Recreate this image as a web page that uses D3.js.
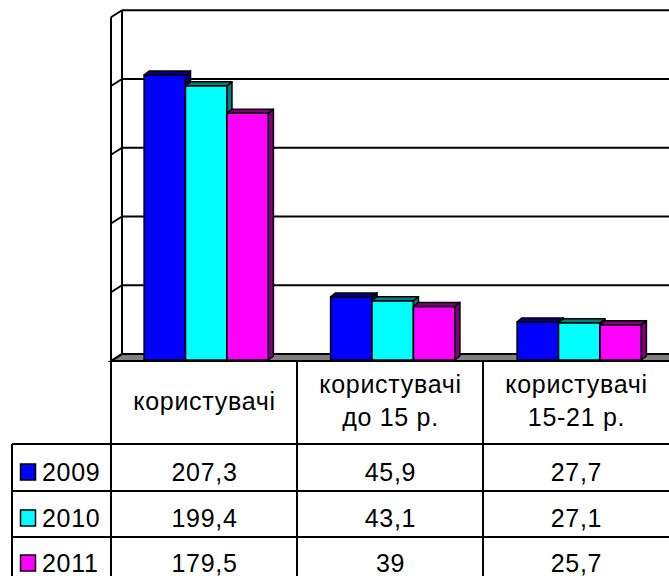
<!DOCTYPE html>
<html lang="uk">
<head>
  <meta charset="UTF-8">
  <title>Користувачі 2009-2011</title>
  <script src="https://d3js.org/d3.v7.min.js"></script>
  <style>
    body { margin: 0; background: #fff; }
    svg { display: block; font-family: "Liberation Sans", Arial, sans-serif; }
  </style>
</head>
<body>
  <svg id="chart" width="669" height="576"></svg>
  <script>
    // data
    const categories = [["користувачі"], ["користувачі", "до 15 р."], ["користувачі", "15-21 р."]];
    const years = ["2009", "2010", "2011"];
    const values2009 = [207.3, 45.9, 27.7];
    const values2010 = [199.4, 43.1, 27.1];
    const values2011 = [179.5, 39, 25.7];
    const seriesValues = [values2009, values2010, values2011];
    const gridTicks = [0, 50, 100, 150, 200, 250];

    const colors = ["#0000ff", "#00ffff", "#ff00ff"];
    const darkColors = ["#000080", "#008080", "#800080"];

    const svg = d3.select("#chart"),
          width = +svg.attr("width");

    // 3d offsets
    const depthX = 11, depthY = -7;   // wall depth
    const barDX = 5, barDY = -4;      // bar depth

    const catIdx = categories.map((d, i) => i);
    const x0 = d3.scaleBand().domain(catIdx).range([113, 672.5]);
    const x1 = d3.scaleBand().domain(years).range([0, x0.bandwidth()]).paddingOuter(0.75);
    const y = d3.scaleLinear().domain([0, 250]).range([360, 16.25]);

    const frontX = 111, backX = frontX + depthX;
    const tableTop = 361;

    // back wall + left wall
    const walls = svg.append("g");
    walls.append("rect")
      .attr("x", backX).attr("y", y(250) - 6)
      .attr("width", width - backX + 5).attr("height", y(0) - y(250))
      .attr("fill", "#fff");

    // floor
    walls.append("path")
      .attr("d", `M${frontX},${tableTop} L${backX},${y(0) - 6} L${width + 5},${y(0) - 6} L${width + 5},${tableTop} Z`)
      .attr("fill", "#808080")
      .attr("stroke", "#000").attr("stroke-width", 2);

    gridTicks.forEach(t => {
      const yb = y(t) - 6;
      walls.append("line")
        .attr("x1", backX).attr("x2", width + 5)
        .attr("y1", yb).attr("y2", yb)
        .attr("stroke", "#000").attr("stroke-width", 2);
      walls.append("line")
        .attr("x1", frontX).attr("x2", backX)
        .attr("y1", yb - depthY).attr("y2", yb)
        .attr("stroke", "#000").attr("stroke-width", 2);
    });
    walls.append("line")
      .attr("x1", backX).attr("x2", backX)
      .attr("y1", y(250) - 6).attr("y2", y(0) - 6)
      .attr("stroke", "#000").attr("stroke-width", 2);
    walls.append("line")
      .attr("x1", frontX).attr("x2", frontX)
      .attr("y1", y(250) - 6 - depthY).attr("y2", tableTop)
      .attr("stroke", "#000").attr("stroke-width", 2);

    // bars
    const bars = svg.append("g");
    catIdx.forEach(ci => {
      years.forEach((yr, si) => {
        const v = seriesValues[si][ci];
        const bx = x0(ci) + x1(yr), bw = x1.bandwidth();
        const top = y(v), base = y(0);
        const g = bars.append("g")
          .attr("stroke", "#000").attr("stroke-width", 1.5).attr("stroke-linejoin", "round");
        g.append("rect")
          .attr("x", bx).attr("y", top)
          .attr("width", bw).attr("height", base - top)
          .attr("fill", colors[si]);
        g.append("path")
          .attr("d", `M${bx + bw},${top} L${bx + bw + barDX},${top + barDY} L${bx + bw + barDX},${base + barDY} L${bx + bw},${base} Z`)
          .attr("fill", darkColors[si]);
        g.append("path")
          .attr("d", `M${bx},${top} L${bx + barDX},${top + barDY} L${bx + bw + barDX},${top + barDY} L${bx + bw},${top} Z`)
          .attr("fill", darkColors[si]);
      });
    });

    // data table
    const tx = d3.scaleBand().domain(catIdx).range([111, 669]);
    const rowTops = [444, 491, 537, 583];
    const table = svg.append("g")
      .attr("stroke", "#000").attr("stroke-width", 2);

    table.append("line").attr("x1", frontX).attr("x2", width + 5).attr("y1", tableTop).attr("y2", tableTop);
    rowTops.forEach(r => {
      table.append("line").attr("x1", 12).attr("x2", width + 5).attr("y1", r).attr("y2", r);
    });
    table.append("line").attr("x1", 12).attr("x2", 12).attr("y1", rowTops[0]).attr("y2", 580);
    catIdx.forEach(ci => {
      table.append("line")
        .attr("x1", tx(ci)).attr("x2", tx(ci))
        .attr("y1", tableTop).attr("y2", 580);
    });

    const text = svg.append("g")
      .attr("font-size", 25).attr("letter-spacing", "0.7px").attr("fill", "#000");

    // header labels
    categories.forEach((lines, ci) => {
      const cx = tx(ci) + tx.bandwidth() / 2 + 0.5;
      const startY = lines.length === 1 ? 410 : 393;
      lines.forEach((ln, li) => {
        text.append("text")
          .attr("x", cx).attr("y", startY + li * 33)
          .attr("text-anchor", "middle")
          .text(ln);
      });
    });

    // rows
    const baselines = [481, 527, 572];
    years.forEach((yr, si) => {
      const by = baselines[si];
      svg.append("rect")
        .attr("x", 20.5).attr("y", by - 17)
        .attr("width", 15).attr("height", 16)
        .attr("fill", colors[si])
        .attr("stroke", "#000").attr("stroke-width", 1.5);
      text.append("text")
        .attr("x", 42).attr("y", by)
        .text(yr);
      seriesValues[si].forEach((v, ci) => {
        text.append("text")
          .attr("x", tx(ci) + tx.bandwidth() / 2 + 0.5).attr("y", by)
          .attr("text-anchor", "middle")
          .text(String(v).replace(".", ","));
      });
    });
  </script>
</body>
</html>
